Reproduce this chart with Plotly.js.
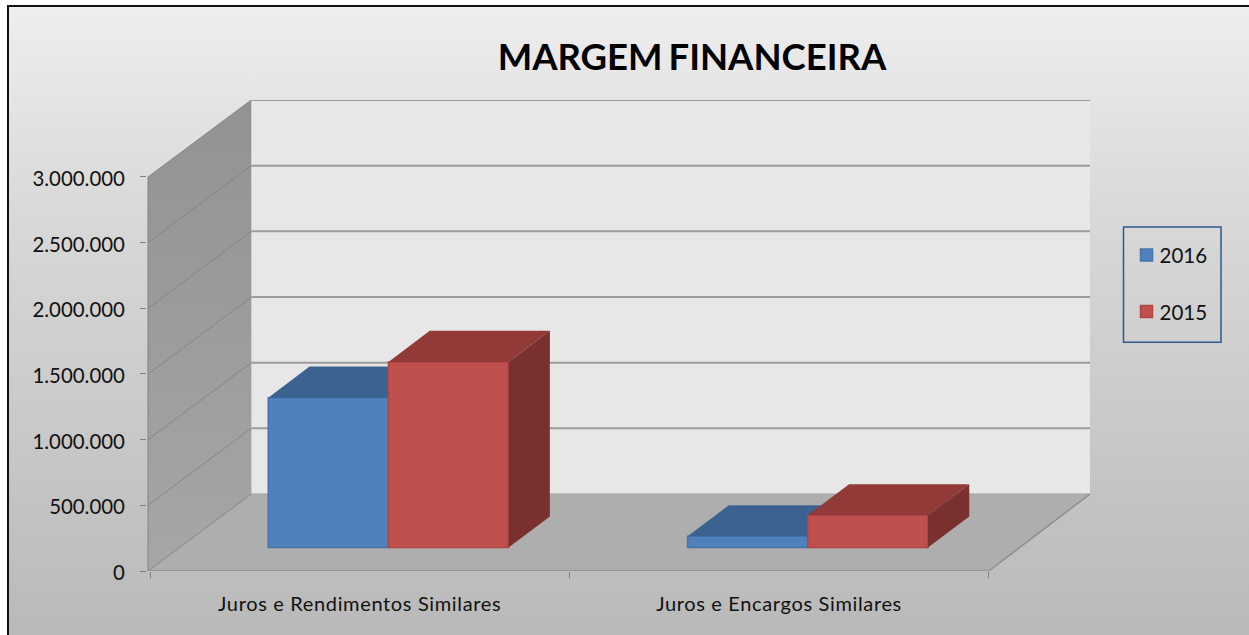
<!DOCTYPE html>
<html>
<head>
<meta charset="utf-8">
<script src="https://cdn.plot.ly/plotly-3.0.1.min.js"></script>
<style>
html,body{margin:0;padding:0;width:1249px;height:635px;overflow:hidden;background:#fff}
#frame{position:absolute;left:7px;top:5px;width:1242px;height:630px;box-sizing:border-box;border-left:2px solid #111;border-top:2px solid #111;background:linear-gradient(to bottom,#eeeeee 0%,#d9d9d9 32%,#b9b9b9 100%)}
#chart{position:absolute;left:0;top:0;width:1249px;height:635px}
.xtick text{letter-spacing:.65px}
.legendtext{transform:translateX(-7px)}
.gtitle{word-spacing:-3px}
</style>
</head>
<body>
<div id="frame"></div>
<div id="chart"></div>
<script>
var categories = ['Juros e Rendimentos Similares', 'Juros e Encargos Similares'];
var seriesNames = ['2016', '2015'];
var values2016 = [1142000, 86000];
var values2015 = [1414000, 246000];
var yTickVals = [0, 500000, 1000000, 1500000, 2000000, 2500000, 3000000];
var yTickText = ['0', '500.000', '1.000.000', '1.500.000', '2.000.000', '2.500.000', '3.000.000'];
var colors2016 = {front:'#4f81bd', top:'#3c6290', side:'#345680', line:'#4674ab'};
var colors2015 = {front:'#c0504d', top:'#913a38', side:'#7a302e', line:'#b04643'};

// Oblique projection, all in axis units
var wallDX = 0.2415, wallDY = 586000;   // full depth of the chart box
var barDX = 0.0985, barDY = 237000;     // depth of a bar
var floorDY = 178000;                   // bar base above the front edge of the floor
var barW = 0.2865;                      // width of one bar
var groupStart = [0.282, 1.282];        // left edge of each group
var xMaxFront = 2;
var yMax = 3000000;
var xLeft = -0.0048;                    // front-left corner of the wall

function poly(xs, ys, color, extra) {
  var t = {type:'scatter', mode:'lines', x:xs.concat([xs[0]]), y:ys.concat([ys[0]]), fill:'toself',
    fillcolor:color, line:{width:0, color:color}, hoverinfo:'skip', showlegend:false, xaxis:'x', yaxis:'y'};
  for (var k in extra) t[k] = extra[k];
  return t;
}
function line(xs, ys, color, width) {
  return {type:'scatter', mode:'lines', x:xs, y:ys, line:{color:color, width:width}, hoverinfo:'skip', showlegend:false, xaxis:'x', yaxis:'y'};
}
var traces = [];
// back wall
traces.push(poly([wallDX, xMaxFront+wallDX, xMaxFront+wallDX, wallDX], [wallDY, wallDY, yMax+wallDY, yMax+wallDY], '#e7e7e7'));
// left wall
traces.push(poly([xLeft, wallDX, wallDX, xLeft], [0, wallDY, yMax+wallDY, yMax], '#989898', {
  fillgradient:{type:'vertical', colorscale:[[0,'#a6a6a6'],[1,'#929292']]}}));
// floor
traces.push(poly([xLeft, xMaxFront, xMaxFront+wallDX, wallDX], [0, 0, wallDY, wallDY], '#aeaeae'));
// gridlines
yTickVals.forEach(function (v) {
  traces.push(line([xLeft, wallDX], [v, v+wallDY], '#868686', 1));
  if (v > 0) traces.push(line([wallDX, xMaxFront+wallDX], [v+wallDY, v+wallDY], '#9b9b9b', 2));
});
traces.push(line([wallDX, xMaxFront+wallDX], [wallDY, wallDY], '#a0a0a0', 1));
// floor edges
traces.push(line([xLeft, xMaxFront, xMaxFront+wallDX], [0, 0, wallDY], '#8f8f8f', 1.5));
traces.push(line([xLeft, xLeft], [0, yMax], '#858585', 1));

function addSeries(name, vals, offset, col, xa, ya) {
  var xCenters = groupStart.map(function (g) { return g + offset*barW + barW/2; });
  traces.push({type:'bar', name:name, x:xCenters, y:vals, base:vals.map(function(){return floorDY;}),
    width:barW, marker:{color:col.front, line:{color:col.line, width:1.5}}, xaxis:xa, yaxis:ya,
    legendgroup:name, hoverinfo:'skip'});
  vals.forEach(function (v, i) {
    var l = groupStart[i] + offset*barW, r = l + barW, b = floorDY, t = floorDY + v;
    traces.push(poly([l, r, r+barDX, l+barDX], [t, t, t+barDY, t+barDY], col.top, {xaxis:xa, yaxis:ya}));
    traces.push(poly([r, r+barDX, r+barDX, r], [b, b+barDY, t+barDY, t], col.side, {xaxis:xa, yaxis:ya}));
  });
}
addSeries(seriesNames[0], values2016, 0, colors2016, 'x2', 'y2');
addSeries(seriesNames[1], values2015, 1, colors2015, 'x3', 'y3');

var xr = [-0.00716, xMaxFront + wallDX], yr = [0, yMax + wallDY];
function hx(){return {overlaying:'x', visible:false, range:xr, fixedrange:true};}
function hy(){return {overlaying:'y', visible:false, range:yr, fixedrange:true};}

var font = 'Lato, "Open Sans", sans-serif';
var plotL = 147, plotW = 943, plotB = 570.7, plotH = 470.7;
var layout = {
  width:1249, height:635, autosize:false,
  margin:{l:plotL, r:1249-plotL-plotW, t:100, b:635-plotB, pad:0},
  paper_bgcolor:'rgba(0,0,0,0)', plot_bgcolor:'rgba(0,0,0,0)',
  barmode:'overlay', showlegend:true,
  font:{family:font, color:'#111', size:19},
  title:{text:'<b>MARGEM FINANCEIRA</b>', x:692/1249, xanchor:'center', y:1-57/635, yanchor:'middle',
    font:{family:font, size:36.5, color:'#000'}},
  xaxis:{range:xr, showgrid:false, zeroline:false, showline:false, fixedrange:true,
    tickmode:'array', tickvals:[0.5, 1.5], ticktext:categories, ticks:'', ticklen:0,
    tickfont:{family:font, size:20, color:'#111'}, ticklabelstandoff:19,
    minor:{tickmode:'array', tickvals:[0, 1, 2], ticks:'outside', ticklen:6, tickcolor:'#808080', tickwidth:1, showgrid:false}},
  yaxis:{range:yr, showgrid:false, zeroline:false, showline:false, fixedrange:true,
    tickmode:'array', tickvals:yTickVals, ticktext:yTickText, ticks:'outside', ticklen:6, tickcolor:'#808080', tickwidth:1,
    tickfont:{family:font, size:20.4, color:'#111'}, ticklabelstandoff:11, ticklabelshift:2},
  xaxis2:hx(), yaxis2:hy(), xaxis3:hx(), yaxis3:hy(),
  legend:{x:(1126.5-plotL)/plotW, y:(plotB-235)/plotH, xanchor:'left', yanchor:'top', bgcolor:'rgba(0,0,0,0)', borderwidth:0,
    font:{family:font, size:20.5, color:'#111'}, tracegroupgap:27, traceorder:'grouped', itemclick:false, itemdoubleclick:false},
  shapes:[{type:'rect', xref:'paper', yref:'paper', x0:(1123.5-plotL)/plotW, x1:(1221-plotL)/plotW,
    y0:(plotB-342)/plotH, y1:(plotB-227)/plotH, line:{color:'#2c5a8f', width:1.5}, fillcolor:'rgba(0,0,0,0)'}]
};
Plotly.newPlot('chart', traces, layout, {displayModeBar:false, staticPlot:true});
</script>
</body>
</html>
